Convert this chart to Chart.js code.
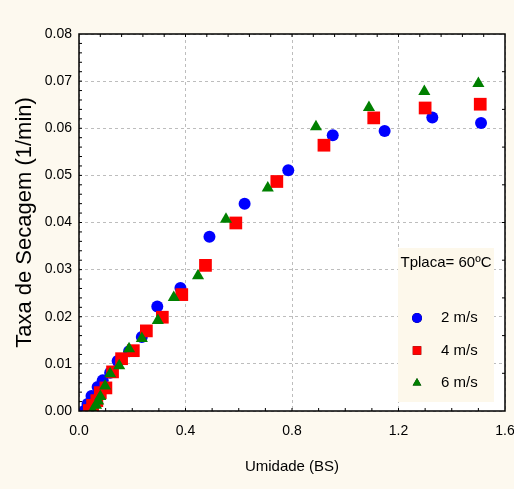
<!DOCTYPE html>
<html>
<head>
    <title>Taxa de Secagem</title>
    <script src='https://cdn.jsdelivr.net/npm/chart.js'></script>
    <style>
        body { margin: 0; background: #fdf9ef; }
        #chartBox { width: 514px; height: 489px; }
    </style>
</head>
<body>
    <div id="chartBox"><canvas id="rateChart" width="514" height="489"></canvas></div>
    <script>
        // Umidade (BS) vs taxa de secagem, Tplaca = 60 C
        const x2 = [1.510, 1.327, 1.148, 0.953, 0.786, 0.622, 0.490, 0.381, 0.294, 0.236, 0.188, 0.145, 0.117, 0.089, 0.070, 0.047, 0.032, 0.022];
        const y2 = [0.0611, 0.0623, 0.0594, 0.0585, 0.0511, 0.0440, 0.0370, 0.0261, 0.0222, 0.0157, 0.0127, 0.0106, 0.0081, 0.0065, 0.0051, 0.0032, 0.0015, 0.0001];

        const x4 = [1.507, 1.300, 1.107, 0.920, 0.743, 0.589, 0.475, 0.386, 0.313, 0.253, 0.204, 0.160, 0.126, 0.101, 0.080, 0.067, 0.051, 0.039];
        const y4 = [0.0651, 0.0643, 0.0622, 0.0564, 0.0487, 0.0399, 0.0309, 0.0247, 0.0199, 0.0170, 0.0128, 0.0111, 0.0083, 0.0049, 0.0039, 0.0022, 0.0012, 0.0001];

        const x6 = [1.500, 1.297, 1.089, 0.890, 0.709, 0.552, 0.447, 0.356, 0.296, 0.236, 0.188, 0.151, 0.117, 0.098, 0.080, 0.072, 0.064, 0.051];
        const y6 = [0.0695, 0.0678, 0.0644, 0.0603, 0.0473, 0.0407, 0.0287, 0.0241, 0.0192, 0.0154, 0.0132, 0.0096, 0.0079, 0.0053, 0.0031, 0.0021, 0.0012, 0.0001];

        const seriesLabels = ['2 m/s', '4 m/s', '6 m/s'];
        const legendTitle = 'Tplaca= 60\u00baC';
        const xTitle = 'Umidade (BS)';
        const yTitle = 'Taxa de Secagem (1/min)';

        function pts(xs, ys) {
            return xs.map((x, i) => ({ x: x, y: ys[i] }));
        }

        const font = "'Liberation Sans', Arial, sans-serif";

        // white plot area + frame with small inner ticks
        const frame = {
            id: 'frame',
            beforeDraw(chart) {
                const a = chart.chartArea, ctx = chart.ctx;
                ctx.save();
                ctx.fillStyle = '#ffffff';
                ctx.fillRect(a.left, a.top, a.right - a.left, a.bottom - a.top);
                ctx.restore();
            },
            afterDraw(chart) {
                const a = chart.chartArea, ctx = chart.ctx;
                const w = a.right - a.left, h = a.bottom - a.top;
                ctx.save();
                ctx.strokeStyle = '#000';
                ctx.lineWidth = 1;
                ctx.beginPath();
                for (let i = 1; i < 40; i++) {
                    const y = a.bottom - h * i / 40;
                    ctx.moveTo(a.left, y); ctx.lineTo(a.left + 3, y);
                }
                for (let i = 1; i < 16; i++) {
                    const x = a.left + w * i / 16;
                    ctx.moveTo(x, a.bottom); ctx.lineTo(x, a.bottom - 3);
                }
                for (let i = 1; i < 20; i++) {
                    const x = a.left + w * i / 20;
                    ctx.moveTo(x, a.top); ctx.lineTo(x, a.top + 3);
                }
                for (let i = 1; i < 10; i++) {
                    const y = a.top + h * i / 10;
                    ctx.moveTo(a.right, y); ctx.lineTo(a.right - 3, y);
                }
                ctx.stroke();
                ctx.lineWidth = 1.5;
                ctx.strokeRect(a.left, a.top, w, h);
                ctx.restore();
            }
        };

        // legend box drawn inside the plot
        const boxLegend = {
            id: 'boxLegend',
            afterDatasetsDraw(chart) {
                const a = chart.chartArea, ctx = chart.ctx;
                const bx = a.right - 107, by = a.bottom - 163;
                ctx.save();
                ctx.fillStyle = '#fdf8eb';
                ctx.fillRect(bx, by, 96, 154);
                ctx.fillStyle = '#000';
                ctx.textBaseline = 'middle';
                ctx.textAlign = 'center';
                ctx.font = '15px ' + font;
                ctx.fillText(legendTitle, bx + 48, by + 15);
                ctx.textAlign = 'left';
                chart.data.datasets.forEach((ds, i) => {
                    const y = by + 70 + i * 32.5;
                    Chart.helpers.drawPoint(ctx, {
                        pointStyle: ds.pointStyle,
                        radius: ds.pointStyle === 'rect' ? 6 : 5,
                        borderWidth: 0
                    }, bx + 19, y);
                    ctx.fillStyle = ds.backgroundColor;
                    ctx.fill();
                    ctx.fillStyle = '#000';
                    ctx.fillText(ds.label, bx + 43, y);
                });
                ctx.restore();
            }
        };

        new Chart(document.getElementById('rateChart').getContext('2d'), {
            type: 'scatter',
            data: {
                datasets: [{
                    label: seriesLabels[0],
                    data: pts(x2, y2),
                    pointStyle: 'circle',
                    pointRadius: 6,
                    backgroundColor: '#0000ff',
                    borderWidth: 0,
                    order: 2
                }, {
                    label: seriesLabels[1],
                    data: pts(x4, y4),
                    pointStyle: 'rect',
                    pointRadius: 9,
                    backgroundColor: '#ff0000',
                    borderWidth: 0,
                    order: 1
                }, {
                    label: seriesLabels[2],
                    data: pts(x6, y6),
                    pointStyle: 'triangle',
                    pointRadius: 7,
                    backgroundColor: '#008000',
                    borderWidth: 0,
                    order: 0
                }]
            },
            options: {
                responsive: false,
                animation: false,
                layout: { padding: { left: 0, right: 8, top: 34, bottom: 10 } },
                plugins: {
                    legend: { display: false },
                    tooltip: { enabled: false }
                },
                scales: {
                    x: {
                        type: 'linear',
                        min: 0,
                        max: 1.6,
                        afterFit(s) { s.height = 68; s.paddingRight = 0; s.paddingLeft = 0; },
                        ticks: {
                            stepSize: 0.4,
                            padding: 12,
                            color: '#000',
                            font: { family: font, size: 14 },
                            callback: v => v.toFixed(1)
                        },
                        grid: { color: '#bdbdbd', drawTicks: false, lineWidth: 1 },
                        border: { display: false, dash: [3, 3] },
                        title: {
                            display: true,
                            text: xTitle,
                            color: '#000',
                            font: { family: font, size: 15 },
                            padding: { top: 0, bottom: 3 }
                        }
                    },
                    y: {
                        min: 0,
                        max: 0.08,
                        afterFit(s) { s.width = 79; s.paddingTop = 0; s.paddingBottom = 0; },
                        ticks: {
                            stepSize: 0.01,
                            padding: 7,
                            color: '#000',
                            font: { family: font, size: 14 },
                            callback: v => v.toFixed(2)
                        },
                        grid: { color: '#bdbdbd', drawTicks: false, lineWidth: 1 },
                        border: { display: false, dash: [3, 3] },
                        title: {
                            display: true,
                            text: yTitle,
                            color: '#000',
                            font: { family: font, size: 22 },
                            padding: { top: 12, bottom: 0 }
                        }
                    }
                }
            },
            plugins: [frame, boxLegend]
        });
    </script>
</body>
</html>
